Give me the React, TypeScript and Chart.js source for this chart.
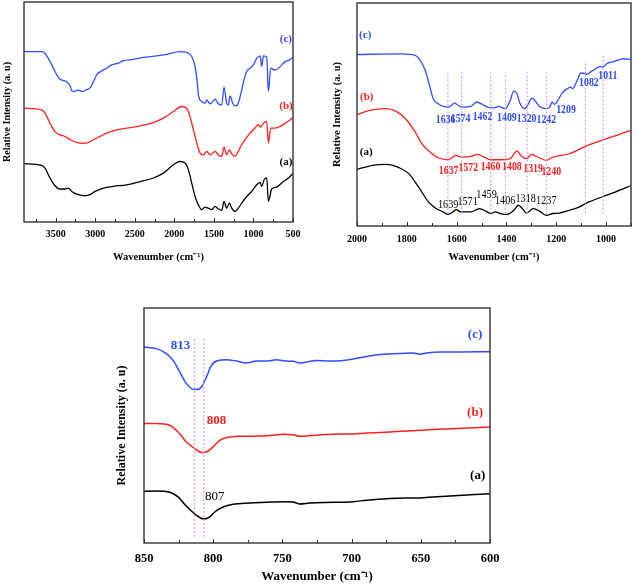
import React, { useEffect, useRef } from 'react';
import { Chart, registerables } from 'chart.js';
Chart.register(...registerables);

const SERIF = '"Liberation Serif", "Times New Roman", serif';
const BLUE = '#2f4dff';
const RED = '#ff2020';
const BLACK = '#000000';
const MARK = '#d49cf2';

// ---------- Panel 1: full range 3900-500 ----------
const P1_C_WN = [3900, 3677, 3635, 3571, 3508, 3453, 3403, 3361, 3318, 3297, 3255, 3226, 3192, 3150, 3116, 3087, 3057, 3023, 2981, 2918, 2855, 2792, 2707, 2644, 2518, 2391, 2223, 2096, 1928, 1844, 1780, 1738, 1709, 1692, 1654, 1612, 1591, 1549, 1485, 1443, 1401, 1372, 1338, 1317, 1296, 1262, 1233, 1203, 1178, 1148, 1119, 1085, 1043, 1001, 959, 916, 895, 874, 832, 811, 782, 727, 664, 600, 537, 495];
const P1_C_I = [77.4, 77.4, 76.7, 72.9, 68.4, 65.1, 64.3, 63.8, 61.9, 59.7, 59.3, 60.1, 59.6, 59.3, 60.1, 60.4, 61.3, 63.8, 66.9, 68.7, 69.9, 71.4, 72.2, 73.3, 73.9, 74.8, 75.5, 76.2, 77.4, 77.1, 75.2, 70.6, 63.1, 57.0, 54.8, 54.0, 55.5, 53.7, 55.8, 53.7, 53.2, 61.3, 54.0, 53.2, 57.3, 54.0, 52.8, 53.2, 55.5, 60.1, 64.6, 68.4, 69.9, 71.4, 74.4, 75.5, 70.6, 75.5, 74.9, 59.3, 69.9, 69.1, 70.6, 72.9, 73.8, 75.2];
const P1_B_WN = [3900, 3677, 3635, 3571, 3508, 3445, 3382, 3318, 3234, 3150, 3087, 3023, 2939, 2855, 2728, 2602, 2434, 2265, 2139, 2012, 1907, 1865, 1822, 1780, 1738, 1704, 1675, 1633, 1591, 1549, 1485, 1443, 1401, 1372, 1338, 1304, 1275, 1233, 1203, 1161, 1106, 1043, 980, 938, 908, 874, 832, 811, 782, 727, 664, 600, 537, 495];
const P1_B_I = [51.7, 51.0, 49.5, 44.9, 41.1, 39.6, 38.9, 37.4, 36.2, 35.8, 36.2, 37.4, 38.9, 40.4, 41.9, 42.7, 43.7, 45.2, 47.2, 50.2, 52.5, 52.2, 50.2, 44.9, 38.9, 34.3, 31.3, 30.5, 32.1, 30.5, 32.1, 30.5, 29.8, 34.0, 30.5, 32.8, 31.0, 29.8, 31.3, 34.3, 37.4, 40.4, 42.7, 44.2, 43.1, 44.9, 45.7, 35.9, 42.7, 42.7, 43.4, 44.9, 46.4, 47.7];
const P1_A_WN = [3900, 3677, 3635, 3571, 3508, 3445, 3382, 3340, 3297, 3213, 3129, 3066, 3002, 2897, 2771, 2602, 2434, 2265, 2139, 2012, 1928, 1865, 1822, 1780, 1738, 1696, 1654, 1612, 1570, 1528, 1485, 1443, 1401, 1372, 1338, 1304, 1275, 1233, 1191, 1148, 1085, 1022, 959, 916, 895, 866, 832, 811, 769, 706, 622, 558, 495];
const P1_A_I = [26.5, 25.7, 24.5, 20.0, 16.5, 15.0, 15.0, 15.4, 13.9, 12.4, 11.9, 12.4, 13.9, 15.4, 16.2, 16.9, 18.4, 20.0, 22.2, 26.0, 27.5, 26.8, 23.7, 17.7, 11.6, 7.8, 5.6, 6.8, 6.3, 5.6, 7.1, 5.9, 5.3, 9.4, 6.3, 8.6, 6.3, 4.8, 6.3, 8.6, 11.6, 13.9, 16.9, 18.0, 16.2, 19.2, 20.0, 9.4, 15.0, 15.9, 18.4, 20.0, 22.2];

// ---------- Panel 2: 2000-900 ----------
const P2_C_WN = [2000, 1819, 1766, 1746, 1726, 1707, 1694, 1674, 1654, 1634, 1621, 1608, 1588, 1569, 1543, 1519, 1496, 1477, 1450, 1431, 1405, 1385, 1371, 1358, 1345, 1326, 1312, 1299, 1286, 1267, 1240, 1227, 1216, 1207, 1194, 1174, 1155, 1142, 1135, 1115, 1102, 1089, 1076, 1063, 1043, 1023, 1014, 997, 964, 931, 901];
const P2_C_I = [76.9, 77.2, 76.5, 74.2, 69.8, 62.3, 57.1, 54.8, 53.6, 53.3, 54.1, 55.1, 53.6, 53.3, 53.6, 55.6, 54.5, 53.3, 53.0, 53.6, 52.6, 56.3, 60.5, 59.3, 54.8, 52.6, 54.8, 57.3, 56.3, 53.6, 52.6, 53.3, 55.6, 54.5, 56.3, 60.0, 61.6, 62.3, 61.6, 65.6, 68.5, 68.5, 68.0, 69.0, 70.5, 71.6, 71.2, 72.8, 73.9, 75.0, 74.7];
const P2_B_WN = [2000, 1950, 1884, 1845, 1805, 1766, 1740, 1707, 1674, 1634, 1602, 1582, 1543, 1516, 1490, 1464, 1424, 1385, 1358, 1339, 1319, 1299, 1280, 1240, 1220, 1201, 1148, 1083, 1017, 938, 901];
const P2_B_I = [49.9, 51.8, 52.6, 51.5, 48.1, 42.1, 36.9, 33.2, 30.6, 29.7, 31.7, 30.9, 31.2, 32.1, 30.9, 29.7, 29.7, 30.2, 33.6, 31.2, 30.2, 32.1, 31.2, 29.4, 30.6, 31.2, 32.4, 35.7, 38.4, 41.4, 42.9];
const P2_A_WN = [2000, 1937, 1884, 1832, 1792, 1753, 1713, 1687, 1654, 1634, 1615, 1602, 1582, 1543, 1509, 1483, 1464, 1444, 1424, 1398, 1371, 1352, 1339, 1319, 1293, 1267, 1240, 1214, 1188, 1148, 1109, 1069, 1017, 964, 898];
const P2_A_I = [25.4, 27.2, 27.6, 26.2, 23.5, 17.5, 10.8, 8.2, 6.3, 5.2, 6.3, 7.3, 6.3, 6.3, 7.8, 6.7, 5.6, 6.3, 5.6, 5.2, 7.0, 9.3, 8.2, 5.8, 7.8, 6.7, 4.8, 5.6, 5.8, 7.0, 8.5, 10.8, 13.0, 15.2, 18.2];
const P2_MARK_WN = [1635, 1580, 1463, 1404, 1317, 1239, 1083, 1012];
const P2_MARK_TOP = [69, 69, 69, 68, 69, 69, 73.5, 76.5];
const P2_MARK_BOTTOM = 5.6;
const P2_C_PEAKS = ['1636', '1574', '1462', '1409', '1320', '1242', '1209', '1082', '1011'];
const P2_C_PEAK_WN = [1644, 1584, 1496, 1398, 1319, 1240, 1161, 1069, 993];
const P2_C_PEAK_I = [47.7, 48.1, 48.8, 48.6, 48.1, 47.4, 51.9, 64.1, 67.4];
const P2_B_PEAKS = ['1637', '1572', '1460', '1408', '1319', '1240'];
const P2_B_PEAK_WN = [1632, 1553, 1464, 1378, 1293, 1220];
const P2_B_PEAK_I = [24.6, 26.2, 26.7, 26.7, 25.7, 24.2];
const P2_A_PEAKS = ['1639', '1571', '1459', '1406', '1318', '1237'];
const P2_A_PEAK_WN = [1634, 1556, 1480, 1405, 1323, 1240];
const P2_A_PEAK_I = [9.7, 10.8, 13.8, 11.5, 12.3, 11.2];

// ---------- Panel 3: 850-600 ----------
const P3_C_WN = [850, 841, 833.8, 829, 824.2, 819.3, 815.7, 812.1, 808.5, 804.9, 801.3, 796.5, 790.4, 783.2, 776, 768.7, 761.5, 754.3, 747, 742.2, 737.4, 732.6, 725.3, 715.7, 706.1, 698.9, 689.2, 677.2, 665.1, 655.5, 650.6, 645.8, 635.8, 621.3, 600];
const P3_C_I = [83.4, 82.7, 80.6, 77.7, 72.8, 67.8, 65.7, 65.3, 66.4, 70.6, 75.6, 77.7, 78.0, 77.4, 76.6, 77.4, 77.4, 78.0, 77.4, 77.3, 76.6, 77.0, 77.7, 77.4, 77.7, 78.3, 79.4, 80.3, 80.6, 80.9, 80.3, 80.9, 81.3, 81.3, 81.4];
const P3_B_WN = [850, 841, 831.4, 825.4, 819.3, 813.3, 808.5, 804.9, 800.1, 795.3, 788, 778.4, 766.3, 756.7, 749.5, 742.2, 737.4, 730.2, 713.3, 698.9, 689.2, 672.3, 653, 641, 623.5, 600];
const P3_B_I = [50.8, 50.8, 50.1, 47.2, 43.0, 40.2, 38.5, 38.7, 40.9, 43.7, 45.1, 45.4, 45.5, 45.8, 46.3, 46.1, 45.4, 45.7, 46.3, 46.4, 46.8, 47.2, 47.9, 48.3, 48.7, 49.4];
const P3_A_WN = [850, 841, 831.4, 825.4, 819.3, 812.1, 806.6, 802.5, 798.9, 792.9, 785.6, 773.5, 761.5, 749.5, 742.2, 737.4, 730.2, 713.3, 698.9, 689.2, 672.3, 648.2, 641, 600];
const P3_A_I = [22.0, 22.1, 21.6, 19.6, 15.6, 11.8, 10.2, 11.1, 13.2, 15.3, 16.5, 17.0, 17.3, 17.6, 17.4, 16.6, 17.0, 17.3, 17.6, 18.2, 18.9, 19.3, 19.6, 21.0];
const P3_MARK_WN = [813.5, 806.8];
const P3_MARK_TOP = [87, 87];
const P3_MARK_BOTTOM = 2.6;

type Lbl = { t: string; x: number; y: number; c: string; bold: boolean; size: number; sx?: number };

const zipPts = (xs: number[], ys: number[]) => xs.map((x, i) => ({ x, y: ys[i] }));
const peakLabels = (txt: string[], xs: number[], ys: number[], c: string, bold: boolean, size: number, sx: number): Lbl[] =>
  txt.map((t, i) => ({ t, x: xs[i], y: ys[i], c, bold, size, sx }));

interface PanelSpec {
  w: number; h: number; left: number; top: number;
  pad: { left: number; top: number; right: number; bottom: number };
  yW: number; xH: number;
  xmin: number; xmax: number; step: number; major: number;
  series: { pts: { x: number; y: number }[]; color: string }[];
  marks: { wn: number; top: number; bottom: number }[];
  labels: Lbl[];
  tickFont: number; tickPad: number;
  xTitleFont: number; xTitlePad: number;
  yTitleFont: number; yTitlePad: number;
  lineW: number;
}

const framePlugin = {
  id: 'frame',
  afterDatasetsDraw(chart: any, _args: any, opts: any) {
    const { ctx, chartArea: a, scales } = chart;
    const xs = scales.x;
    const ys = scales.y;
    ctx.save();
    ctx.strokeStyle = '#2a2a2a';
    ctx.lineWidth = 1;
    xs.ticks.forEach((t: any) => {
      const px = Math.round(xs.getPixelForValue(t.value)) + 0.5;
      const len = t.value % opts.major === 0 ? 4 : 3;
      ctx.beginPath();
      ctx.moveTo(px, a.bottom);
      ctx.lineTo(px, a.bottom - len);
      ctx.stroke();
    });
    ctx.lineWidth = 1.4;
    ctx.strokeStyle = '#333333';
    ctx.strokeRect(a.left, a.top, a.right - a.left, a.bottom - a.top);
    ctx.textAlign = 'center';
    ctx.textBaseline = 'middle';
    (opts.labels as Lbl[]).forEach((l) => {
      ctx.save();
      ctx.font = `${l.bold ? 'bold ' : ''}${l.size}px ${SERIF}`;
      ctx.fillStyle = l.c;
      ctx.translate(xs.getPixelForValue(l.x), ys.getPixelForValue(l.y));
      ctx.scale(l.sx ?? 1, 1);
      ctx.fillText(l.t, 0, 0);
      ctx.restore();
    });
    ctx.restore();
  },
};

function buildConfig(s: PanelSpec): any {
  const datasets: any[] = [];
  s.marks.forEach((m) => {
    datasets.push({
      data: [{ x: m.wn, y: m.bottom }, { x: m.wn, y: m.top }],
      borderColor: MARK, borderWidth: 1.2, borderDash: [2, 2], pointRadius: 0, fill: false,
    });
  });
  s.series.forEach((se) => {
    datasets.push({
      data: se.pts, borderColor: se.color, borderWidth: s.lineW, pointRadius: 0, fill: false,
      cubicInterpolationMode: 'monotone',
    });
  });
  return {
    type: 'line',
    data: { datasets },
    plugins: [framePlugin],
    options: {
      responsive: false,
      animation: false,
      events: [],
      layout: { padding: s.pad },
      plugins: {
        legend: { display: false },
        tooltip: { enabled: false },
        frame: { major: s.major, labels: s.labels },
      },
      scales: {
        x: {
          type: 'linear', reverse: true, min: s.xmin, max: s.xmax,
          grid: { display: false, drawTicks: false },
          border: { display: false },
          ticks: {
            stepSize: s.step, includeBounds: false, autoSkip: false, maxRotation: 0, minRotation: 0,
            padding: s.tickPad, color: '#000',
            font: { family: SERIF, weight: 'bold', size: s.tickFont },
            callback: (v: number) => (Math.round(v) % s.major === 0 ? String(Math.round(v)) : ''),
          },
          title: {
            display: true, text: 'Wavenumber (cm\u207B\u00B9)', color: '#000',
            font: { family: SERIF, weight: 'bold', size: s.xTitleFont },
            padding: { top: 0, bottom: s.xTitlePad },
          },
          afterFit: (sc: any) => { sc.height = s.xH; },
        },
        y: {
          type: 'linear', min: 0, max: 100,
          grid: { display: false, drawTicks: false },
          border: { display: false },
          ticks: { display: false },
          title: {
            display: true, text: 'Relative Intensity (a. u)', color: '#000',
            font: { family: SERIF, weight: 'bold', size: s.yTitleFont },
            padding: { top: s.yTitlePad, bottom: 0 },
          },
          afterFit: (sc: any) => { sc.width = s.yW; },
        },
      },
    },
  };
}

const PANEL1: PanelSpec = {
  w: 320, h: 270, left: 0, top: 0,
  pad: { left: 0, top: 2, right: 27, bottom: 0 }, yW: 24, xH: 48,
  xmin: 500, xmax: 3900, step: 250, major: 500,
  series: [
    { pts: zipPts(P1_C_WN, P1_C_I), color: BLUE },
    { pts: zipPts(P1_B_WN, P1_B_I), color: RED },
    { pts: zipPts(P1_A_WN, P1_A_I), color: BLACK },
  ],
  marks: [],
  labels: [
    { t: '(c)', x: 590, y: 83.2, c: BLUE, bold: true, size: 11 },
    { t: '(b)', x: 588, y: 52.8, c: RED, bold: true, size: 11 },
    { t: '(a)', x: 588, y: 27.3, c: BLACK, bold: true, size: 11 },
  ],
  tickFont: 10, tickPad: 6, xTitleFont: 10.5, xTitlePad: 6.7, yTitleFont: 10, yTitlePad: 1.5, lineW: 1.3,
};

const PANEL2: PanelSpec = {
  w: 318, h: 270, left: 320, top: 0,
  pad: { left: 0, top: 3, right: 2, bottom: 0 }, yW: 37, xH: 44,
  xmin: 900, xmax: 2000, step: 100, major: 200,
  series: [
    { pts: zipPts(P2_C_WN, P2_C_I), color: BLUE },
    { pts: zipPts(P2_B_WN, P2_B_I), color: RED },
    { pts: zipPts(P2_A_WN, P2_A_I), color: BLACK },
  ],
  marks: P2_MARK_WN.map((wn, i) => ({ wn, top: P2_MARK_TOP[i], bottom: P2_MARK_BOTTOM })),
  labels: [
    { t: '(c)', x: 1967, y: 85.8, c: BLUE, bold: true, size: 11 },
    { t: '(b)', x: 1961, y: 57.8, c: RED, bold: true, size: 11 },
    { t: '(a)', x: 1963, y: 33.2, c: BLACK, bold: true, size: 11 },
    ...peakLabels(P2_C_PEAKS, P2_C_PEAK_WN, P2_C_PEAK_I, BLUE, true, 12, 0.82),
    ...peakLabels(P2_B_PEAKS, P2_B_PEAK_WN, P2_B_PEAK_I, RED, true, 12, 0.82),
    ...peakLabels(P2_A_PEAKS, P2_A_PEAK_WN, P2_A_PEAK_I, BLACK, false, 12, 0.85),
  ],
  tickFont: 10, tickPad: 7, xTitleFont: 10.5, xTitlePad: 6.7, yTitleFont: 10.5, yTitlePad: 10.5, lineW: 1.3,
};

const PANEL3: PanelSpec = {
  w: 420, h: 297, left: 100, top: 290,
  pad: { left: 0, top: 18, right: 30, bottom: 0 }, yW: 44, xH: 44,
  xmin: 600, xmax: 850, step: 25, major: 50,
  series: [
    { pts: zipPts(P3_C_WN, P3_C_I), color: BLUE },
    { pts: zipPts(P3_B_WN, P3_B_I), color: RED },
    { pts: zipPts(P3_A_WN, P3_A_I), color: BLACK },
  ],
  marks: P3_MARK_WN.map((wn, i) => ({ wn, top: P3_MARK_TOP[i], bottom: P3_MARK_BOTTOM })),
  labels: [
    { t: '(c)', x: 610.8, y: 88.8, c: BLUE, bold: true, size: 13 },
    { t: '(b)', x: 610.8, y: 55.5, c: RED, bold: true, size: 13 },
    { t: '(a)', x: 608.9, y: 28.8, c: BLACK, bold: true, size: 13 },
    { t: '813', x: 823.7, y: 84.1, c: BLUE, bold: true, size: 13 },
    { t: '808', x: 797.6, y: 52.2, c: RED, bold: true, size: 13 },
    { t: '807', x: 798.9, y: 19.6, c: BLACK, bold: false, size: 13 },
  ],
  tickFont: 12.5, tickPad: 8, xTitleFont: 13, xTitlePad: 2.2, yTitleFont: 12, yTitlePad: 14.5, lineW: 1.5,
};

function PanelChart({ spec }: { spec: PanelSpec }) {
  const ref = useRef<HTMLCanvasElement>(null);
  useEffect(() => {
    const chart = new Chart(ref.current as HTMLCanvasElement, buildConfig(spec));
    return () => chart.destroy();
  }, [spec]);
  return (
    <div style={{ position: 'absolute', left: spec.left, top: spec.top, width: spec.w, height: spec.h }}>
      <canvas ref={ref} width={spec.w} height={spec.h} style={{ width: spec.w, height: spec.h, display: 'block' }} />
    </div>
  );
}

export default function App() {
  return (
    <div style={{ position: 'absolute', left: 0, top: 0, width: 638, height: 587, background: '#fff', overflow: 'hidden' }}>
      <PanelChart spec={PANEL1} />
      <PanelChart spec={PANEL2} />
      <PanelChart spec={PANEL3} />
    </div>
  );
}
